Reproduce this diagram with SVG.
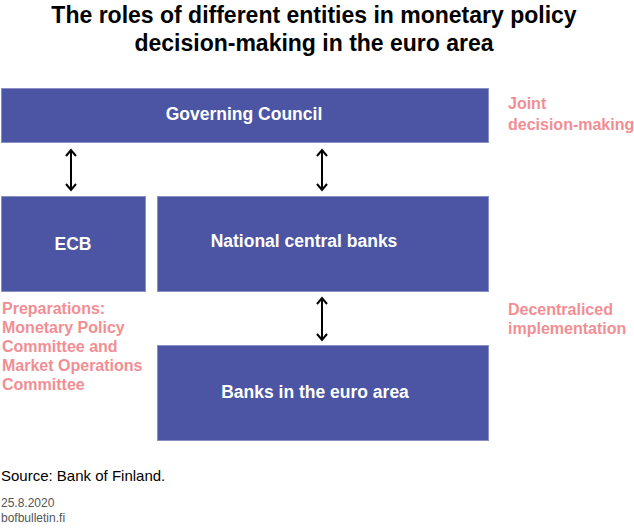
<svg xmlns="http://www.w3.org/2000/svg" width="634" height="528" viewBox="0 0 634 528">
<defs>
<style>
.box{fill:#4C55A3;stroke:#8A90C4;stroke-width:1}
.bt{font-family:"Liberation Sans",Arial,sans-serif;font-weight:bold;font-size:17.5px;fill:#fff;text-anchor:middle}
.pk{font-family:"Liberation Sans",Arial,sans-serif;font-weight:bold;font-size:16px;fill:#F28E93}
.title{font-family:"Liberation Sans",Arial,sans-serif;font-weight:bold;font-size:23px;fill:#000;text-anchor:middle}
.src{font-family:"Liberation Sans",Arial,sans-serif;font-size:15px;fill:#000}
.ft{font-family:"Liberation Sans",Arial,sans-serif;font-size:12px;fill:#555}
.ar{stroke:#000;stroke-width:2;fill:none}
</style>
</defs>
<rect width="634" height="528" fill="#fff"/>
<text class="title" x="314" y="23">The roles of different entities in monetary policy</text>
<text class="title" x="314" y="51">decision-making in the euro area</text>
<g id="governing-council">
<rect class="box" x="1.5" y="88.5" width="487" height="54"/>
<text class="bt" x="244" y="120">Governing Council</text>
</g>
<g id="ecb">
<rect class="box" x="1.5" y="196.5" width="144" height="95"/>
<text class="bt" x="73" y="250">ECB</text>
</g>
<g id="ncb">
<rect class="box" x="157.5" y="196.5" width="331" height="95"/>
<text class="bt" x="304" y="247">National central banks</text>
</g>
<g id="banks">
<rect class="box" x="157.5" y="345.5" width="331" height="95"/>
<text class="bt" x="315" y="398">Banks in the euro area</text>
</g>
<g id="connectors">
<path d="M71,151 L71,189" class="ar"/>
<path d="M66,156 L71,150 L76,156 M66,184 L71,190 L76,184" class="ar"/>
<path d="M322,151 L322,189" class="ar"/>
<path d="M317,156 L322,150 L327,156 M317,184 L322,190 L327,184" class="ar"/>
<path d="M322,299 L322,339" class="ar"/>
<path d="M317,304 L322,298 L327,304 M317,334 L322,340 L327,334" class="ar"/>
</g>
<g id="labels">
<text class="pk" x="508" y="109">Joint</text>
<text class="pk" x="508" y="130">decision-making</text>
<text class="pk" x="508" y="315">Decentraliced</text>
<text class="pk" x="508" y="334">implementation</text>
<text class="pk" x="2" y="314">Preparations:</text>
<text class="pk" x="2" y="333">Monetary Policy</text>
<text class="pk" x="2" y="352">Committee and</text>
<text class="pk" x="2" y="371">Market Operations</text>
<text class="pk" x="2" y="390">Committee</text>
</g>
<text class="src" x="1" y="481">Source: Bank of Finland.</text>
<text class="ft" x="1" y="507">25.8.2020</text>
<text class="ft" x="1" y="522">bofbulletin.fi</text>
</svg>
